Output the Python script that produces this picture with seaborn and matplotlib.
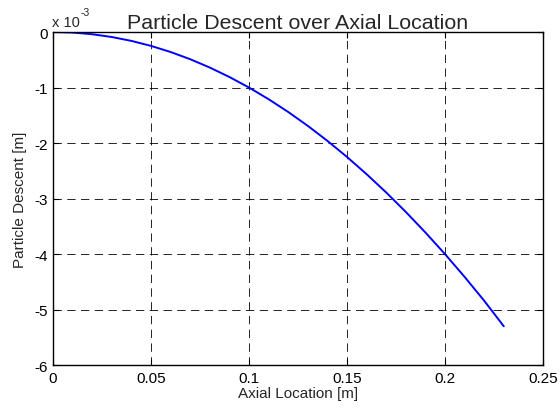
import matplotlib
matplotlib.use("Agg")
import matplotlib.pyplot as plt
import seaborn as sns
import pandas as pd

# Values
axial_location = [0.00, 0.01, 0.02, 0.03, 0.04, 0.05, 0.06, 0.07, 0.08, 0.09,
                  0.10, 0.11, 0.12, 0.13, 0.14, 0.15, 0.16, 0.17, 0.18, 0.19,
                  0.20, 0.21, 0.22, 0.23]
# particle descent in units of 1e-3 m
descent_e3 = [0.00, -0.01, -0.04, -0.09, -0.16, -0.25, -0.36, -0.49, -0.64, -0.81,
              -1.00, -1.21, -1.44, -1.69, -1.96, -2.25, -2.56, -2.89, -3.24, -3.61,
              -4.00, -4.41, -4.84, -5.30]
x_ticks = [0, 0.05, 0.1, 0.15, 0.2, 0.25]
x_tick_labels = ["0", "0.05", "0.1", "0.15", "0.2", "0.25"]
y_ticks = [0, -1, -2, -3, -4, -5, -6]
y_tick_labels = ["0", "-1", "-2", "-3", "-4", "-5", "-6"]

sns.set_theme(style="white")
plt.rcParams['font.family'] = ['Liberation Sans', 'DejaVu Sans']

df = pd.DataFrame({"x": axial_location, "y": descent_e3})

fig = plt.figure(figsize=(5.6, 4.1), dpi=100)
ax = fig.add_axes([0.0946, 0.107, 0.875, 0.8125])
sns.lineplot(data=df, x="x", y="y", ax=ax, color=(0, 0, 1), linewidth=1.4)

ax.set_xlim(0, 0.25)
ax.set_ylim(-6, 0)
ax.set_xticks(x_ticks)
ax.set_xticklabels(x_tick_labels)
ax.set_yticks(y_ticks)
ax.set_yticklabels(y_tick_labels)
ax.grid(True, color="black", linestyle=(0, (10, 6.5)), linewidth=0.6)
for s in ax.spines.values():
    s.set_color("black")
    s.set_linewidth(1.0)
ax.tick_params(direction="in", length=4, width=0.8, top=True, right=True,
               bottom=True, left=True, labelsize=11, colors="black", pad=4)
ax.set_xlabel("Axial Location [m]", fontsize=11, labelpad=1)
ax.set_ylabel("Particle Descent [m]", fontsize=11, labelpad=5)
ax.set_title("Particle Descent over Axial Location", fontsize=15.4, pad=3)
fig.text(0.093, 0.934, "x 10", fontsize=10.5, ha="left", va="baseline")
fig.text(0.143, 0.962, "-3", fontsize=7.5, ha="left", va="baseline")

fig.savefig("out.png", dpi=100, facecolor="white")
